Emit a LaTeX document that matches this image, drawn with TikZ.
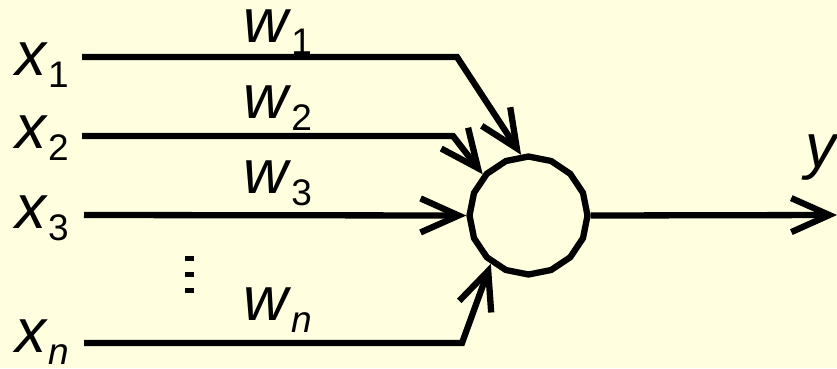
\documentclass[tikz,border=0pt]{standalone}
\usepackage{fontspec}
\setmainfont{Liberation Sans}
\usetikzlibrary{arrows.meta,shapes.geometric}
\definecolor{paper}{RGB}{255,255,224}
% italic symbol with a lowered index
\newcommand\symsub[2]{\textit{#1}\raisebox{-12pt}{\fontsize{37pt}{37pt}\selectfont #2}}
\tikzset{
  wire/.style={line width=6.3pt, line join=miter},
  arr/.style={wire, -{Straight Barb[length=38pt,width=34pt]}},
  lbl/.style={anchor=base west, inner sep=0pt, font=\fontsize{62pt}{62pt}\selectfont},
  dotmark/.style={fill=black},
}
\begin{document}
\begin{tikzpicture}[x=1pt,y=-1pt]
  \fill[paper] (0,0) rectangle (837,368);
  \useasboundingbox (0,0) rectangle (837,368);

  % summing unit
  \node[draw, wire, regular polygon, regular polygon sides=16, shape border rotate=11.25,
        minimum size=118pt, inner sep=0pt] (sum) at (528.5,215.5) {};

  % inputs
  \node[lbl] (x1) at (15,75)  {\symsub{x}{1}};
  \node[lbl] (x2) at (15,148) {\symsub{x}{2}};
  \node[lbl] (x3) at (15,228) {\symsub{x}{3}};
  \node[lbl] (xn) at (15,352) {\symsub{x}{\textit{n}}};

  % weights
  \node[lbl] (w1) at (243,42)  {\symsub{w}{1}};
  \node[lbl] (w2) at (243,118) {\symsub{w}{2}};
  \node[lbl] (w3) at (243,193) {\symsub{w}{3}};
  \node[lbl] (wn) at (243,320) {\symsub{w}{\textit{n}}};

  % output
  \node[lbl] (y) at (805,167) {\textit{y}};

  % wire ends and bends
  \coordinate (s1) at (82,57);   \coordinate (b1) at (457,57);
  \coordinate (s2) at (82,136);  \coordinate (b2) at (453,136);
  \coordinate (s3) at (84,215);
  \coordinate (sn) at (84,343);  \coordinate (bn) at (462,343);
  \coordinate (out) at (837,215);

  \draw[arr] (s1) -- (b1) -- (sum.97);
  \draw[arr] (s2) -- (b2) -- (sum.138);
  \draw[arr] (s3) -- (sum.west);
  \draw[arr] (sn) -- (bn) -- (sum.232);
  \draw[arr] (sum.east) -- (out);

  % vertical ellipsis
  \fill[dotmark] (185,256) rectangle (194,261);
  \fill[dotmark] (185,272) rectangle (194,277);
  \fill[dotmark] (185,288) rectangle (194,293);
\end{tikzpicture}
\end{document}
